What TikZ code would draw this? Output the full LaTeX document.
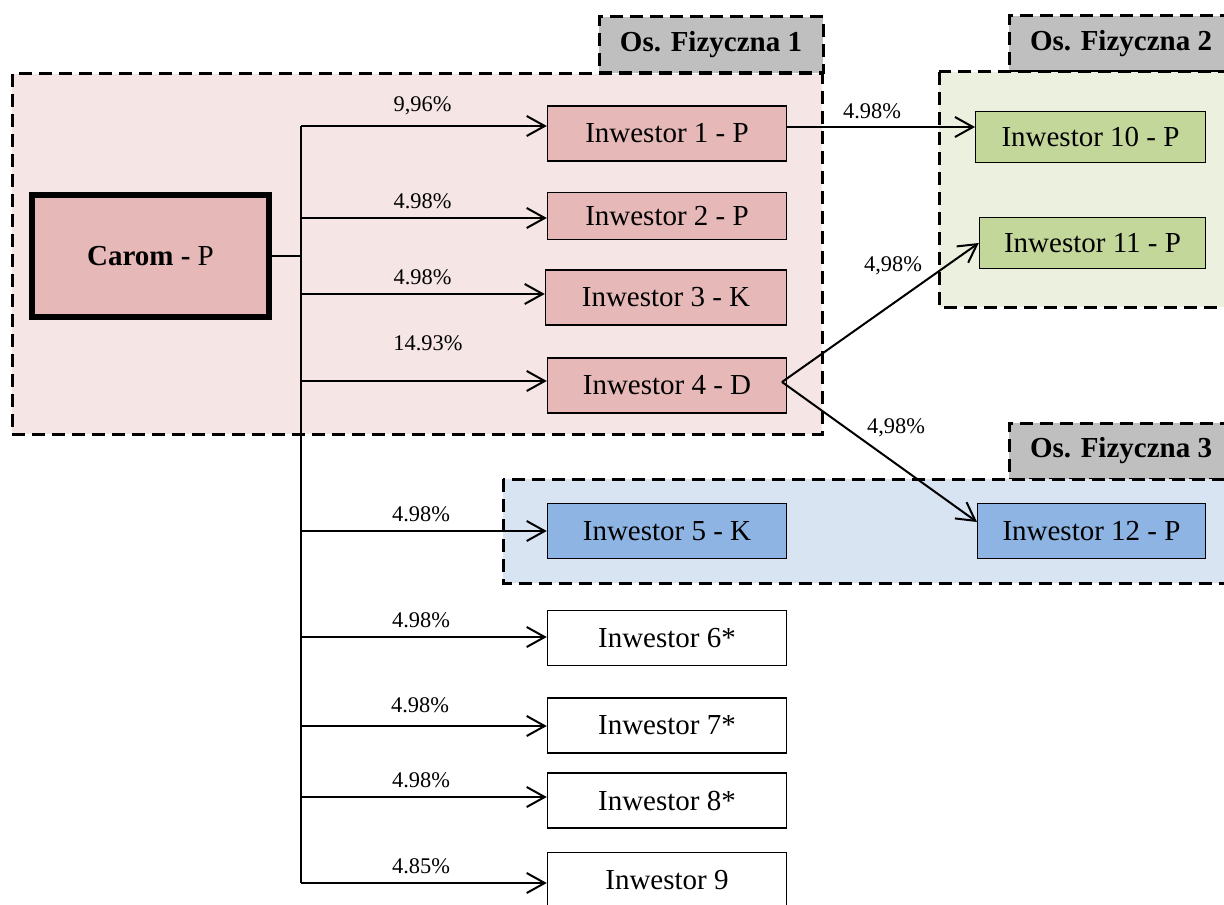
\documentclass[tikz,border=0pt]{standalone}
\usepackage{fontspec}
\setmainfont{Liberation Serif}
\usepackage{tikz}
\usetikzlibrary{arrows.meta, positioning, calc}
\definecolor{caromPink}{HTML}{E6B8B7}
\definecolor{groupPink}{HTML}{F5E5E5}
\definecolor{fizGreen}{HTML}{C4D79B}
\definecolor{groupGreen}{HTML}{EBF1DE}
\definecolor{fizBlue}{HTML}{8DB4E2}
\definecolor{groupBlue}{HTML}{D9E4F3}
\definecolor{tagGray}{HTML}{BFBFBF}

\begin{document}
\begin{tikzpicture}[x=0.5pt, y=-0.5pt,
    box/.style={draw, line width=0.75pt, minimum width=119.5pt, minimum height=27.5pt, inner sep=0pt, font=\fontsize{14.5}{17}\selectfont},
    pct/.style={inner sep=0pt, font=\fontsize{11.2}{13}\selectfont},
    grp/.style={draw, line width=1.5pt, dash pattern=on 6.5pt off 3.5pt},
    tag/.style={grp, fill=tagGray, minimum width=112pt, minimum height=28pt, inner sep=0pt, font=\bfseries\fontsize{14.5}{17}\selectfont},
    arr/.style={line width=1pt, -{Straight Barb[length=9pt, width=10pt]}}]

    \clip (0,0) rectangle (1224,904);

    % Os. Fizyczna 1 (pink)
    \node[tag] (tag1) at (711,45) {Os. Fizyczna 1};
    \filldraw[grp, fill=groupPink] (12,74) rectangle (822,434);
    % Os. Fizyczna 2 (green)
    \node[tag] (tag2) at (1121,44) {Os. Fizyczna 2};
    \filldraw[grp, fill=groupGreen] (939,72) rectangle (1240,307);
    % Os. Fizyczna 3 (blue)
    \node[tag] (tag3) at (1121,451) {Os. Fizyczna 3};
    \filldraw[grp, fill=groupBlue] (503,479) rectangle (1240,583);

    % Main company
    \node[box, fill=caromPink, line width=3pt, minimum width=118.5pt, minimum height=61pt] (carom) at (150.5,256) {\textbf{Carom -} P};

    % Investors
    \node[box, fill=caromPink] (inv1) at (667,133.5) {Inwestor 1 - P};
    \node[box, fill=caromPink, minimum height=23.5pt] (inv2) at (667,216) {Inwestor 2 - P};
    \node[box, fill=caromPink, minimum width=120.5pt] (inv3) at (666,297.5) {Inwestor 3 - K};
    \node[box, fill=caromPink] (inv4) at (667,385.5) {Inwestor 4 - D};
    \node[box, fill=fizBlue] (inv5) at (667,531) {Inwestor 5 - K};
    \node[box] (inv6) at (667,638) {Inwestor 6*};
    \node[box] (inv7) at (667,725.5) {Inwestor 7*};
    \node[box] (inv8) at (667,800.5) {Inwestor 8*};
    \node[box] (inv9) at (667,880) {Inwestor 9};
    \node[box, fill=fizGreen, minimum width=115pt, minimum height=25.5pt] (inv10) at (1090.5,137) {Inwestor 10 - P};
    \node[box, fill=fizGreen, minimum width=113pt, minimum height=25.5pt] (inv11) at (1092.5,243) {Inwestor 11 - P};
    \node[box, fill=fizBlue, minimum width=114pt] (inv12) at (1091.5,531) {Inwestor 12 - P};

    % Shares held by Carom
    \foreach \n/\y/\lx/\ly/\p in {1/126/422.5/106/{9,96\%}, 2/218/422.5/201/{4.98\%},
        3/294/422.5/277/{4.98\%}, 4/381/428/343/{14.93\%}, 5/531/421/514/{4.98\%},
        6/637/421/620/{4.98\%}, 7/726/420/705/{4.98\%}, 8/797/421/780/{4.98\%},
        9/883/421/866/{4.85\%}} {
        \coordinate (t\n) at (301,\y);
        \draw[arr] (t\n) -- (t\n -| inv\n.west);
        \node[pct] (p\n) at (\lx,\ly) {\p};
    }
    \draw[line width=1pt] (t1) -- (t9);
    \draw[line width=1pt] (carom.east) -- (carom.east -| t1);

    % Further shares
    \coordinate (a10) at (975,127);
    \coordinate (s4) at (782,382);
    \coordinate (a12) at (977,522);
    \draw[arr] (inv1.east |- a10) -- (a10);
    \draw[arr] (s4) -- (inv11.west);
    \draw[arr] (s4) -- (a12);
    \node[pct] (p10) at (872,111) {4.98\%};
    \node[pct] (p11) at (893,266) {4,98\%};
    \node[pct] (p12) at (896,428) {4,98\%};
\end{tikzpicture}
\end{document}
